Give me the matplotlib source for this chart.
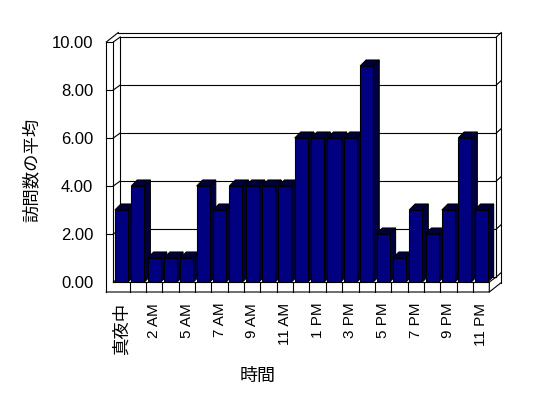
import numpy as np
import matplotlib
matplotlib.use("Agg")
import matplotlib.pyplot as plt
from matplotlib.lines import Line2D
from matplotlib.patches import Polygon
from matplotlib.transforms import IdentityTransform

plt.rcParams['font.family'] = ['Liberation Sans', 'Noto Sans CJK JP', 'DejaVu Sans']

# data: average visits per hour (4 AM has no data)
hours = ['真夜中', '1 AM', '2 AM', '3 AM', '5 AM', '6 AM', '7 AM', '8 AM', '9 AM',
         '10 AM', '11 AM', '12 PM', '1 PM', '2 PM', '3 PM', '4 PM', '5 PM',
         '6 PM', '7 PM', '8 PM', '9 PM', '10 PM', '11 PM']
visits = [3, 4, 1, 1, 1, 4, 3, 4, 4, 4, 4, 6, 6, 6, 6, 9, 2, 1, 3, 2, 3, 6, 3]
yticks = [0, 2, 4, 6, 8, 10]

W, H = 548, 398
fig = plt.figure(figsize=(W / 100, H / 100), dpi=100)
ax = fig.add_axes([113.3 / W, (H - 282) / H, 376 / W, 240 / H])
ax.set_facecolor('none')
for s in ax.spines.values():
    s.set_visible(False)

x = np.arange(len(hours))
L, R = -0.5, len(hours) - 0.5
ax.set_xlim(L, R)
ax.set_ylim(0, 10)

# 3d offsets in pixels (x right, y up)
D = (7, 5)        # back wall plane
D2 = (12, 9.5)    # back wall outer edge
DB = (6, 6)       # bar depth
WALL = 7          # left wall thickness
FLOOR = 10        # floor thickness

fig.canvas.draw()


def px(xv, yv, dx=0, dy=0):
    X, Y = ax.transData.transform((xv, yv))
    return X + dx, Y + dy


def seg(*pts, z=100):
    xs = [p[0] for p in pts]
    ys = [p[1] for p in pts]
    ax.add_line(Line2D(xs, ys, transform=IdentityTransform(), color='black',
                       lw=0.8, clip_on=False, zorder=z))


# back wall and gridlines
for v in yticks:
    seg(px(L, v, *D), px(R, v, *D), z=1)
    seg(px(L, v), px(L, v, *D), z=1)
    seg(px(R, v, *D), px(R, v, *D2), z=1)
    if v > 0:
        seg(px(L, v, -WALL, 0), px(L, v))
seg(px(L, 10, *D), px(L, 0, *D), z=1)
seg(px(R, 10, *D), px(R, 0, *D), z=1)
seg(px(L, 10, D2[0] - WALL, D2[1]), px(R, 10, *D2), z=1)
seg(px(R, 10, *D2), px(R, 0, D2[0], D2[1] - FLOOR), z=1)

# left wall
seg(px(L, 10, -WALL, 0), px(L, 0, -WALL, -FLOOR))
seg(px(L, 10), px(L, 0))
seg(px(L, 10, -WALL, 0), px(L, 10, D2[0] - WALL, D2[1]))

# floor
seg(px(L, 0), px(R, 0))
seg(px(L, 0, -WALL, -FLOOR), px(R, 0, 0, -FLOOR), px(R, 0), px(R, 0, *D))
seg(px(R, 0, 0, -FLOOR), px(R, 0, D2[0], D2[1] - FLOOR))
for k in x[:-1]:
    seg(px(k + 0.5, 0), px(k + 0.5, 0, 0, -FLOOR))

# bars
bars = ax.bar(x, visits, width=0.8, color='#000080', edgecolor='black', linewidth=0.8)
for i, b in enumerate(bars):
    x0 = b.get_x()
    x1 = x0 + b.get_width()
    h = b.get_height()
    b.set_zorder(11 + 2 * i)
    top = [px(x0, h), px(x1, h), px(x1, h, *DB), px(x0, h, *DB)]
    side = [px(x1, 0), px(x1, h), px(x1, h, *DB), px(x1, 0, *DB)]
    for pts in (top, side):
        ax.add_patch(Polygon(pts, closed=True, transform=IdentityTransform(),
                             facecolor='#000040', edgecolor='black', lw=0.8,
                             clip_on=False, zorder=10 + 2 * i))

# ticks and labels
ax.set_xticks(x[::2], [hours[i] for i in x[::2]], rotation=90, fontsize=11)
ax.get_xticklabels()[0].set_fontsize(12.5)
ax.set_yticks(yticks, ['%.2f' % v for v in yticks], fontsize=12)
ax.tick_params(axis='x', length=0, pad=15)
ax.tick_params(axis='y', length=0, pad=14.5)

ax.set_xlabel('時間', fontsize=13, va='center')
ax.xaxis.set_label_coords((258 - 113.3) / 376, (282 - 376) / 240)
ax.set_ylabel('訪問数の平均', fontsize=12.5, va='center')
ax.yaxis.set_label_coords((31 - 113.3) / 376, (282 - 170) / 240)

fig.savefig('out.png', dpi=100, facecolor='white')
